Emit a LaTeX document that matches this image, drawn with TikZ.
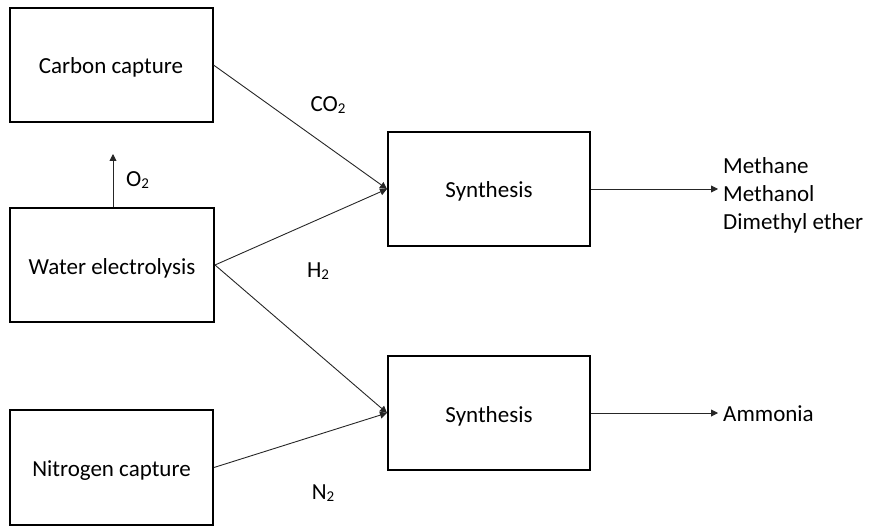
\documentclass[tikz,border=0pt]{standalone}
\usepackage{fontspec}
\setmainfont{Carlito}
\usetikzlibrary{arrows.meta}
\newcommand{\sbs}[1]{\raisebox{-1.5pt}{\fontsize{15}{15}\selectfont #1}}
\tikzset{
  procbox/.style={draw=black, line width=2pt, minimum width=203pt, minimum height=114pt, inner sep=0pt, text height=20pt, text depth=2pt, font=\fontsize{23}{28}\selectfont},
  flow/.style={draw=black!85, line width=0.9pt, -{Triangle[width=7pt,length=7pt]}},
  lbl/.style={inner sep=0pt, font=\fontsize{23}{28}\selectfont}
}
\begin{document}
\begin{tikzpicture}[x=1pt,y=-1pt]
\useasboundingbox (0,0) rectangle (869,529);
\node[procbox] (cc) at (111,65) {Carbon capture};
\node[procbox, minimum width=204pt] (we) at (112,265) {Water electrolysis};
\node[procbox, minimum height=115pt] (nc) at (111.5,467.5) {Nitrogen capture};
\node[procbox, minimum width=202pt] (s1) at (489,189) {Synthesis};
\node[procbox, minimum width=202pt] (s2) at (489,413) {Synthesis};
\coordinate (o2end) at (113,154);
\coordinate (p1end) at (718,189);
\coordinate (p2end) at (718,413);
\draw[flow] (cc.east) -- (s1.west);
\draw[flow] (we.east) -- (s1.west);
\draw[flow] (we.east) -- (s2.west);
\draw[flow] (nc.east) -- (s2.west);
\draw[flow] (we.north -| o2end) -- (o2end);
\draw[flow] (s1.east) -- (p1end);
\draw[flow] (s2.east) -- (p2end);
\node[lbl] (co2) at (328,105) {CO\sbs{2}};
\node[lbl, anchor=west] (o2) at (126,180) {O\sbs{2}};
\node[lbl] (h2) at (318,271) {H\sbs{2}};
\node[lbl] (n2) at (323,493) {N\sbs{2}};
\node[lbl, anchor=west, align=left] (prod1) at (723,195) {Methane\\Methanol\\Dimethyl ether};
\node[lbl, anchor=west] (prod2) at (723,414) {Ammonia};
\end{tikzpicture}
\end{document}
